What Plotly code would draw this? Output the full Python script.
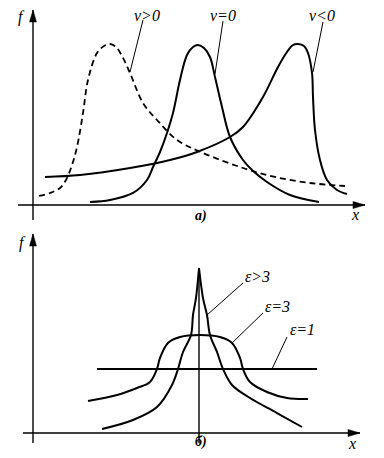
import plotly.graph_objects as go

# ---------------- Panel a): f(x) for three values of nu ----------------
nu_pos_x = [6, 17, 27, 33, 39, 44, 50, 55, 64, 71, 77, 83, 89, 97, 110, 124, 144, 170, 210, 242, 277, 312]
nu_pos_y = [9, 12, 17, 25, 40, 58, 92, 125, 152, 159, 161, 158, 149, 132, 102, 85, 65, 52, 37, 28, 22, 19]

nu_zero_x = [57, 77, 100, 114, 120, 127, 134, 140, 147, 154, 160, 165, 171, 177, 182, 189, 197, 210, 219, 234, 257, 286]
nu_zero_y = [3, 5, 12, 25, 38, 53, 72, 92, 125, 150, 158, 160, 157, 148, 128, 98, 68, 45, 35, 23, 10, 3]

nu_neg_x = [12, 47, 97, 137, 164, 197, 210, 230, 245, 254, 260, 265, 271, 275, 279, 280, 282, 287, 294, 304, 314]
nu_neg_y = [28, 30, 37, 45, 53, 68, 78, 108, 138, 153, 160, 161, 159, 152, 132, 108, 75, 45, 25, 15, 11]

labels_a = ["ν>0", "ν=0", "ν<0"]
labels_a_x = [114, 190, 289]
labels_a_y = [190, 190, 190]
leaders_a_x = [[110, 97], [190, 182], [290, 280]]
leaders_a_y = [[185, 133], [184, 131], [183, 133]]

# ---------------- Panel б): f(x) for three values of epsilon ----------------
eps1_x = [64, 284]
eps1_y = [64, 64]

eps3_x = [55, 84, 104, 117, 124, 127, 135, 147, 167, 187, 199, 207, 210, 217, 234, 254, 275]
eps3_y = [32, 38, 45, 51, 64, 75, 90, 96, 98, 96, 90, 75, 64, 51, 41, 35, 34]

epsgt3_x = [69, 100, 124, 139, 145, 150, 158, 160, 163, 166, 170, 174, 177, 184, 190, 199, 217, 244, 269]
epsgt3_y = [4, 13, 26, 48, 64, 81, 98, 118, 135, 165, 135, 118, 98, 81, 64, 48, 35, 20, 6]
epsgt3_peak = 9  # index of the cusp

center_x = [166, 166]
center_y = [-10, 165]

labels_b = ["ε>3", "ε=3", "ε=1"]
labels_b_x = [224, 244, 269]
labels_b_y = [156, 126, 103]
leaders_b_x = [[210, 174], [230, 199], [254, 239]]
leaders_b_y = [[150, 118], [120, 90], [96, 64]]

# axes extents (tail, tip) in panel units
axis_a_x = [-15, 332]
axis_a_y = [-15, 195]
axis_b_x = [-10, 327]
axis_b_y = [-10, 199]

FONT = "Liberation Serif, Times New Roman, serif"
fig = go.Figure()


def line(x, y, xa, ya, width=2.0, dash="solid", shape="spline"):
    fig.add_trace(go.Scatter(
        x=x, y=y, mode="lines", xaxis=xa, yaxis=ya,
        line=dict(color="black", width=width, dash=dash, shape=shape, smoothing=1.0),
        hoverinfo="skip", showlegend=False))


def axes(ax_x, ax_y, xa, ya, xr, yr):
    line(ax_x, [0, 0], xa, ya, width=1.4, shape="linear")
    line([0, 0], ax_y, xa, ya, width=1.4, shape="linear")
    L, W = 12, 7
    tx = ax_x[1]
    ty = ax_y[1]
    fig.add_shape(type="path", xref=xr, yref=yr,
                  path=f"M{tx},0 L{tx - L},{W / 2} L{tx - L},{-W / 2} Z",
                  fillcolor="black", line=dict(color="black", width=0.5))
    fig.add_shape(type="path", xref=xr, yref=yr,
                  path=f"M0,{ty} L{-W / 2},{ty - L} L{W / 2},{ty - L} Z",
                  fillcolor="black", line=dict(color="black", width=0.5))


# panel a
axes(axis_a_x, axis_a_y, "x", "y", "x", "y")
line(nu_pos_x, nu_pos_y, "x", "y", width=1.8, dash="6px,4px")
line(nu_zero_x, nu_zero_y, "x", "y", width=2.0)
line(nu_neg_x, nu_neg_y, "x", "y", width=2.0)
for lx, ly in zip(leaders_a_x, leaders_a_y):
    line(lx, ly, "x", "y", width=1.0, shape="linear")

# panel b
axes(axis_b_x, axis_b_y, "x2", "y2", "x2", "y2")
line(center_x, center_y, "x2", "y2", width=1.4, shape="linear")
line(eps1_x, eps1_y, "x2", "y2", width=2.0, shape="linear")
line(eps3_x, eps3_y, "x2", "y2", width=2.0)
line(epsgt3_x[:epsgt3_peak + 1], epsgt3_y[:epsgt3_peak + 1], "x2", "y2", width=2.0)
line(epsgt3_x[epsgt3_peak:], epsgt3_y[epsgt3_peak:], "x2", "y2", width=2.0)
for lx, ly in zip(leaders_b_x, leaders_b_y):
    line(lx, ly, "x2", "y2", width=1.0, shape="linear")

annots = []
for t, x, y in zip(labels_a, labels_a_x, labels_a_y):
    annots.append(dict(text=f"<i>{t}</i>", x=x, y=y, xref="x", yref="y", showarrow=False,
                       font=dict(family=FONT, size=16, color="black")))
for t, x, y in zip(labels_b, labels_b_x, labels_b_y):
    annots.append(dict(text=f"<i>{t}</i>", x=x, y=y, xref="x2", yref="y2", showarrow=False,
                       font=dict(family=FONT, size=16, color="black")))
annots += [
    dict(text="<i>f</i>", x=-12, y=188, xref="x", yref="y", showarrow=False,
         font=dict(family=FONT, size=16, color="black")),
    dict(text="<i>x</i>", x=322, y=-10, xref="x", yref="y", showarrow=False,
         font=dict(family=FONT, size=16, color="black")),
    dict(text="<b><i>a)</i></b>", x=168, y=-11, xref="x", yref="y", showarrow=False,
         font=dict(family=FONT, size=14, color="black")),
    dict(text="<i>f</i>", x=-11, y=190, xref="x2", yref="y2", showarrow=False,
         font=dict(family=FONT, size=16, color="black")),
    dict(text="<i>x</i>", x=319, y=-10, xref="x2", yref="y2", showarrow=False,
         font=dict(family=FONT, size=16, color="black")),
    dict(text="<b><i>б)</i></b>", x=168, y=-9, xref="x2", yref="y2", showarrow=False,
         font=dict(family=FONT, size=14, color="black")),
]

hidden = dict(visible=False, showgrid=False, zeroline=False, fixedrange=True)
fig.update_layout(
    width=384, height=458,
    margin=dict(l=0, r=0, t=0, b=0),
    paper_bgcolor="white", plot_bgcolor="white",
    showlegend=False,
    font=dict(family=FONT),
    xaxis=dict(domain=[0, 1], range=[-33, 351], anchor="y", **hidden),
    yaxis=dict(domain=[0.5022, 1], range=[-23, 205], anchor="x", **hidden),
    xaxis2=dict(domain=[0, 1], range=[-33, 351], anchor="y2", **hidden),
    yaxis2=dict(domain=[0, 0.5022], range=[-25, 205], anchor="x2", **hidden),
    annotations=annots,
)

fig.write_html("out.html", config={"displayModeBar": False},
               post_script="document.body.style.margin='0';document.body.style.overflow='hidden';")
